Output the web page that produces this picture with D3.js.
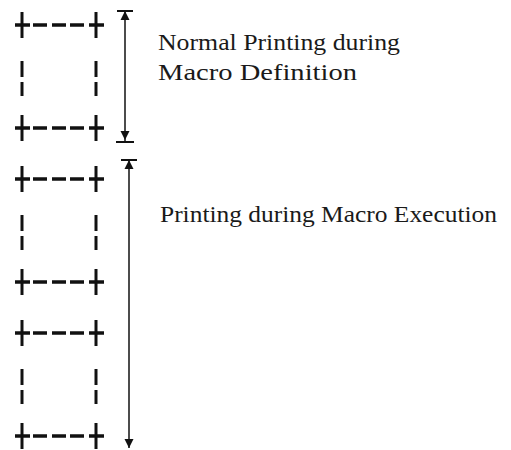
<!DOCTYPE html>
<html><head><meta charset="utf-8">
<script src="https://cdn.jsdelivr.net/npm/d3@7"></script>
<style>html,body{margin:0;padding:0;background:#fff;}svg{display:block;}
.lbl{font-family:"Liberation Serif";}</style>
</head><body>
<svg id="c" width="511" height="450"></svg>
<script>
// Data
const boxIndex = [0, 1, 2];
const boxGroup = [0, 1, 1];
const groupLabels = [["Normal Printing during", "Macro Definition"], ["Printing during Macro Execution"]];

const svg = d3.select("#c");

const y = d3.scaleLinear().domain([0, 2]).range([25, 333]);
const boxH = 103;
const xl = 22, xr = 96;
const ink = "#111";

const g = svg.append("g");
boxIndex.forEach(i => {
  const top = y(i), bot = top + boxH;
  [top, bot].forEach(yy => {
    [xl, xr].forEach(xx => {
      g.append("line").attr("x1", xx).attr("x2", xx).attr("y1", yy - 13).attr("y2", yy + 13)
        .attr("stroke", ink).attr("stroke-width", 3);
      g.append("line").attr("x1", xx - 7).attr("x2", xx + 8).attr("y1", yy).attr("y2", yy)
        .attr("stroke", ink).attr("stroke-width", 3.5);
    });
    [[33, 47], [52, 66], [70, 84]].forEach(d => {
      g.append("line").attr("x1", d[0]).attr("x2", d[1]).attr("y1", yy).attr("y2", yy)
        .attr("stroke", ink).attr("stroke-width", 3.5);
    });
  });
  [xl, xr].forEach(xx => {
    [[36, 52], [57, 71]].forEach(d => {
      g.append("line").attr("x1", xx).attr("x2", xx).attr("y1", top + d[0]).attr("y2", top + d[1])
        .attr("stroke", ink).attr("stroke-width", 3);
    });
  });
});

const groups = d3.groups(boxIndex.map((b, k) => ({b, grp: boxGroup[k]})), d => d.grp);
const arrowSpecs = [
  {x: 125, y1: 11, y2: 142, botBar: true},
  {x: 129, y1: 160, y2: 448, botBar: false}
];
groups.forEach(([grp]) => {
  const a = arrowSpecs[grp];
  g.append("line").attr("x1", a.x).attr("x2", a.x).attr("y1", a.y1).attr("y2", a.y2)
    .attr("stroke", ink).attr("stroke-width", 1.5);
  g.append("path").attr("d", `M${a.x},${a.y1} L${a.x - 4.5},${a.y1 + 9} L${a.x + 4.5},${a.y1 + 9} Z`).attr("fill", ink);
  g.append("line").attr("x1", a.x - 8).attr("x2", a.x + 8).attr("y1", a.y1).attr("y2", a.y1)
    .attr("stroke", ink).attr("stroke-width", 2);
  const tip = a.botBar ? a.y2 - 2 : a.y2;
  g.append("path").attr("d", `M${a.x},${tip} L${a.x - 4.5},${tip - 9} L${a.x + 4.5},${tip - 9} Z`).attr("fill", ink);
  if (a.botBar) g.append("line").attr("x1", a.x - 9).attr("x2", a.x + 9).attr("y1", a.y2).attr("y2", a.y2)
    .attr("stroke", ink).attr("stroke-width", 2);
});

const labelSpecs = [
  {x: 158, y: 50, dy: 30, widths: [242, 199]},
  {x: 160, y: 222, dy: 30, widths: [337]}
];
groupLabels.forEach((lines, gi) => {
  const s = labelSpecs[gi];
  lines.forEach((t, li) => {
    const el = g.append("text").attr("class", "lbl").attr("x", s.x).attr("y", s.y + li * s.dy)
      .style("font-size", "22.5px").attr("fill", "#1a1a1a").text(t);
    const w = el.node().getComputedTextLength();
    if (Math.abs(w - s.widths[li]) > 2) el.attr("textLength", s.widths[li]).attr("lengthAdjust", "spacingAndGlyphs");
  });
});
</script>
</body></html>
